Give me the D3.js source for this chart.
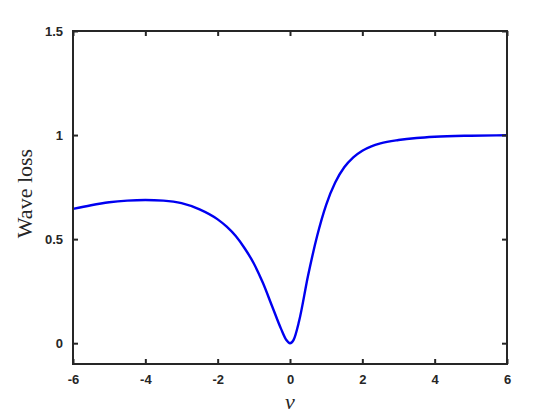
<!DOCTYPE html>
<html>
<head>
<meta charset="utf-8">
<script src="https://cdn.jsdelivr.net/npm/d3@7"></script>
<style>
  html, body { margin: 0; padding: 0; background: #ffffff; }
  svg { display: block; }
</style>
</head>
<body>
<svg id="chart" width="560" height="420"></svg>
<script>
// ---- data ----
const vValues = [-6, -5.5, -5, -4.5, -4, -3.5, -3, -2.5, -2, -1.75, -1.5, -1.25, -1, -0.75, -0.5, -0.25, -0.1, 0,
                 0.1, 0.25, 0.5, 0.75, 1, 1.25, 1.5, 1.75, 2, 2.25, 2.5, 3, 3.5, 4, 5, 6];
const lossValues = [0.645, 0.663, 0.677, 0.685, 0.688, 0.685, 0.673, 0.643, 0.595, 0.56, 0.515, 0.455, 0.383, 0.29, 0.18, 0.07, 0.015, 0,
                    0.016, 0.105, 0.325, 0.515, 0.665, 0.772, 0.845, 0.893, 0.925, 0.946, 0.96, 0.976, 0.986, 0.992, 0.997, 0.999];
const xTicks = [-6, -4, -2, 0, 2, 4, 6];
const xTickLabels = ["-6", "-4", "-2", "0", "2", "4", "6"];
const yTicks = [0, 0.5, 1, 1.5];
const yTickLabels = ["0", "0.5", "1", "1.5"];
const xDomain = [-6, 6];
const yDomain = [-0.1, 1.5];
const xLabel = "v";
const yLabel = "Wave loss";

// ---- layout ----
const W = 560, H = 420;
const margin = { left: 73, right: 53, top: 31, bottom: 56 };
const iw = W - margin.left - margin.right;
const ih = H - margin.top - margin.bottom;
const axisColor = "#262626";

const svg = d3.select("#chart");
const g = svg.append("g").attr("transform", `translate(${margin.left},${margin.top})`);

const x = d3.scaleLinear().domain(xDomain).range([0, iw]);
const y = d3.scaleLinear().domain(yDomain).range([ih, 0]);

// curve
const pts = vValues.map((v, i) => [v, lossValues[i]]);
const line = d3.line().x(d => x(d[0])).y(d => y(d[1])).curve(d3.curveMonotoneX);
g.append("path")
  .datum(pts)
  .attr("fill", "none")
  .attr("stroke", "#0000f0")
  .attr("stroke-width", 2.4)
  .attr("stroke-linejoin", "round")
  .attr("d", line);

function styleAxis(sel, showLabels) {
  sel.select(".domain").remove();
  sel.selectAll(".tick line").attr("stroke", axisColor).attr("stroke-width", 2);
  sel.selectAll(".tick text")
    .attr("fill", "#262626")
    .style("font-family", "'Liberation Sans', Arial, sans-serif")
    .style("font-weight", "bold")
    .style("font-size", "13px");
  if (!showLabels) sel.selectAll(".tick text").remove();
}

const tl = 5;
g.append("g").attr("transform", `translate(0,${ih})`)
  .call(d3.axisBottom(x).tickValues(xTicks).tickSizeInner(-tl).tickSizeOuter(0).tickPadding(11)
        .tickFormat((d, i) => xTickLabels[i]))
  .call(s => styleAxis(s, true));
g.append("g")
  .call(d3.axisTop(x).tickValues(xTicks).tickSizeInner(-tl).tickSizeOuter(0))
  .call(s => styleAxis(s, false));
g.append("g")
  .call(d3.axisLeft(y).tickValues(yTicks).tickSizeInner(-tl).tickSizeOuter(0).tickPadding(10)
        .tickFormat((d, i) => yTickLabels[i]))
  .call(s => styleAxis(s, true));
g.append("g").attr("transform", `translate(${iw},0)`)
  .call(d3.axisRight(y).tickValues(yTicks).tickSizeInner(-tl).tickSizeOuter(0))
  .call(s => styleAxis(s, false));

// frame
g.append("rect")
  .attr("x", 0).attr("y", 0).attr("width", iw).attr("height", ih)
  .attr("fill", "none").attr("stroke", axisColor).attr("stroke-width", 2);

// labels
svg.append("text")
  .attr("x", margin.left + iw / 2)
  .attr("y", 409)
  .attr("text-anchor", "middle")
  .style("font-family", "'Liberation Serif', 'Times New Roman', serif")
  .style("font-style", "italic")
  .style("font-size", "22px")
  .attr("fill", "#262626")
  .text(xLabel);

svg.append("text")
  .attr("transform", `translate(32,${margin.top + ih / 2 - 4}) rotate(-90)`)
  .attr("text-anchor", "middle")
  .style("font-family", "'Liberation Serif', 'Times New Roman', serif")
  .style("font-size", "22px")
  .attr("fill", "#262626")
  .text(yLabel);
</script>
</body>
</html>
